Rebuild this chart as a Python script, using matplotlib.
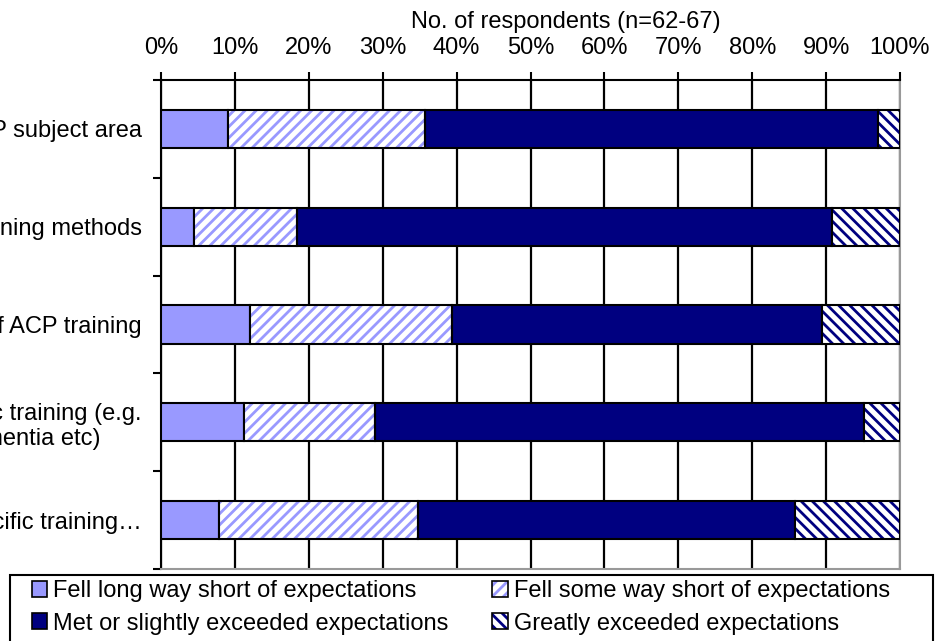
import matplotlib
matplotlib.use('Agg')
import matplotlib.pyplot as plt
from matplotlib.patches import Patch, Rectangle

# survey categories (left labels run off the figure edge, like the original)
categories = ['Relevance to ACP subject area',
              'Training methods',
              'Overall quality of ACP training',
              'Disease specific training (e.g.\ncancer, dementia etc)',
              'Setting specific training…']

long_short = [9.1, 4.5, 12.0, 11.2, 7.8]
some_short = [26.6, 13.9, 27.4, 17.8, 27.0]
met = [61.3, 72.4, 50.0, 66.1, 51.0]
greatly = [3.0, 9.2, 10.6, 4.9, 14.2]

series_names = ['Fell long way short of expectations',
                'Fell some way short of expectations',
                'Met or slightly exceeded expectations',
                'Greatly exceeded expectations']

light = '#9999FF'
navy = '#000080'

plt.rcParams['font.family'] = ['Liberation Sans', 'DejaVu Sans']
plt.rcParams['font.size'] = 17
plt.rcParams['hatch.linewidth'] = 2.0

fig = plt.figure(figsize=(9.4, 6.41), dpi=100)
ax = fig.add_axes([161/940, 1 - 569/641, 739/940, 489/641])

y = list(range(len(categories)))
h = 0.39

left = [0] * len(y)
ax.barh(y, long_short, left=left, height=h, color=light, edgecolor='black', linewidth=1.5, zorder=3)
left = [a + b for a, b in zip(left, long_short)]

ax.barh(y, some_short, left=left, height=h, color='white', edgecolor=light, hatch='///', linewidth=0, zorder=3)
ax.barh(y, some_short, left=left, height=h, fill=False, edgecolor='black', linewidth=1.5, zorder=4)
left = [a + b for a, b in zip(left, some_short)]

ax.barh(y, met, left=left, height=h, color=navy, edgecolor='black', linewidth=1.5, zorder=3)
left = [a + b for a, b in zip(left, met)]

ax.barh(y, greatly, left=left, height=h, color='white', edgecolor=navy, hatch='\\\\\\', linewidth=0, zorder=3)
ax.barh(y, greatly, left=left, height=h, fill=False, edgecolor='black', linewidth=1.5, zorder=4)

ax.set_xlim(0, 100)
ax.set_ylim(len(categories) - 0.5, -0.5)

ax.set_xticks(range(0, 101, 10))
ax.set_xticklabels([f'{v}%' for v in range(0, 101, 10)])
ax.xaxis.tick_top()
ax.tick_params(axis='x', direction='out', length=6, width=1.5, pad=9)

ax.set_yticks(y)
ax.set_yticklabels(categories, multialignment='center')
ax.set_yticks([i + 0.5 for i in range(-1, len(categories))], minor=True)
ax.tick_params(axis='y', which='major', length=0, pad=14)
ax.tick_params(axis='y', which='minor', direction='out', length=6, width=1.5)

ax.set_axisbelow(True)
ax.grid(axis='x', color='black', linewidth=1.6)

for s in ['top', 'left']:
    ax.spines[s].set_color('black')
    ax.spines[s].set_linewidth(1.5)
for s in ['right', 'bottom']:
    ax.spines[s].set_color('#999999')
    ax.spines[s].set_linewidth(1.5)

fig.text(566/940, 1 - 22/641, 'No. of respondents (n=62-67)', ha='center', va='center')

handles = [
    Patch(facecolor=light, edgecolor='black', linewidth=1.2),
    (Patch(facecolor='white', edgecolor=light, hatch='///', linewidth=0),
     Patch(fill=False, edgecolor='black', linewidth=1.2)),
    Patch(facecolor=navy, edgecolor='black', linewidth=1.2),
    (Patch(facecolor='white', edgecolor=navy, hatch='\\\\\\', linewidth=0),
     Patch(fill=False, edgecolor='black', linewidth=1.2)),
]
order = [0, 2, 1, 3]
fig.legend([handles[i] for i in order], [series_names[i] for i in order],
           ncol=2, loc='upper left',
           bbox_to_anchor=(32/940, 1 - 580/641),
           bbox_transform=fig.transFigure, frameon=False,
           handlelength=0.65, handleheight=0.65, handletextpad=0.25,
           labelspacing=0.45, columnspacing=1.85, borderpad=0, borderaxespad=0)

# legend border drawn separately: it is wider than the entries and runs off the bottom
fig.patches.append(Rectangle((10/940, -10/641), 923/940, (641 - 575 + 10)/641,
                             transform=fig.transFigure, fill=False,
                             edgecolor='black', linewidth=1.5, zorder=5))

fig.savefig('out.png', dpi=100)
